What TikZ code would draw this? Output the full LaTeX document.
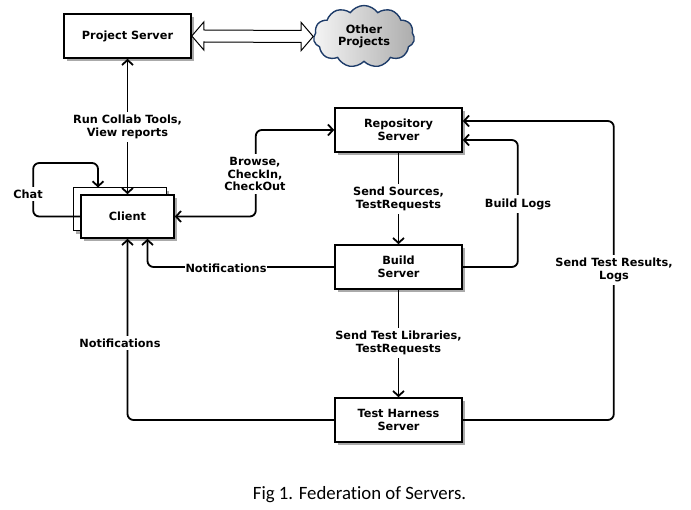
\documentclass[tikz,border=0pt]{standalone}
\usepackage{fontspec}
\setmainfont{DejaVu Sans}
\newfontfamily\capfont[Ligatures=NoCommon]{Carlito}
\usetikzlibrary{arrows.meta}
\usetikzlibrary{shapes.symbols}
\usetikzlibrary{shadows}
\usetikzlibrary{calc}
\definecolor{cloudline}{RGB}{30,60,105}
\definecolor{shadowgray}{RGB}{170,170,170}
\newcommand\srvfont{\fontsize{11.3}{12.7}\selectfont\bfseries}
\tikzset{
      server/.style={draw=black, fill=white, line width=1.6, minimum width=127pt, minimum height=44pt,
            inner sep=0pt, align=center, font=\srvfont,
            drop shadow={shadow xshift=3pt, shadow yshift=-3pt, fill=shadowgray, opacity=1}},
      flow/.style={draw=black, line width=1.8, rounded corners=6pt,
            -{Straight Barb[length=5pt,width=11pt]}},
      flowboth/.style={draw=black, line width=1.8, rounded corners=6pt,
            {Straight Barb[length=5pt,width=11pt]}-{Straight Barb[length=5pt,width=11pt]}},
      twinarrow/.style={draw=black, line width=1, fill=white, line join=miter},
      tag/.style={fill=white, inner xsep=1.5pt, inner ysep=3pt, align=center, font=\srvfont},
}

\begin{document}
\begin{tikzpicture}[x=1pt,y=-1pt]

        \useasboundingbox (0,0) rectangle (691,510);

        \node[server] (proj) at (127.5,36) {Project Server};
        \node[cloud, cloud puffs=11, cloud puff arc=110, aspect=1.6, draw=cloudline, line width=1.4,
              left color=gray!8, right color=gray!65, minimum width=101pt, minimum height=62pt,
              inner sep=0pt, align=center, font=\srvfont] (other) at (364,36.5) {Other\\Projects};

        \node[server, minimum width=93pt, minimum height=43pt, line width=1] (clientbk) at (119.5,209.5) {};
        \node[server, minimum width=93pt, minimum height=43pt] (client) at (127.5,216.5) {Client};

        \node[server] (repo) at (398.5,130) {Repository\\Server};
        \node[server] (build) at (398.5,267) {Build\\Server};
        \node[server] (harness) at (398.5,420) {Test Harness\\Server};

        \draw[twinarrow] (proj.east) -- ++(12,-14) -- ++(0,8) -- ($(other.west)+(-12,-6)$) -- ++(0,-8)
              -- (other.west) -- ++(-12,14) -- ++(0,-8) -- ($(proj.east)+(12,6)$) -- ++(0,8) -- cycle ;

        \coordinate (chatup) at (98,163) ;
        \draw[flowboth] (proj.south) -- (client.north) ;
        \draw[flow] (client.west) -- ++(-47,0) |- (chatup) -- (chatup |- clientbk.north) ;
        \draw[flowboth] (client.east) -- ++(81,0) |- (repo.west) ;
        \draw[flow] (repo.south) -- (build.north) ;
        \draw[flow] (build.south) -- (harness.north) ;
        \draw[flow] (build.east) -- ++(55,0) |- ([yshift=-10pt]repo.east) ;
        \draw[flow] (harness.east) -- ++(151,0) |- ([yshift=9pt]repo.east) ;
        \draw[flow] (build.west) -| ([xshift=20pt]client.south) ;
        \draw[flow] (harness.west) -| (client.south) ;

        \node[tag] (tcollab) at (127.5,127) {Run Collab Tools,\\View reports} ;
        \node[tag] (tchat) at (28,194) {Chat} ;
        \node[tag] (tbrowse) at (255,174) {Browse,\\CheckIn,\\CheckOut} ;
        \node[tag] (tsources) at (398.5,199) {Send Sources,\\TestRequests} ;
        \node[tag] (tlogs) at (518,204) {Build Logs} ;
        \node[tag, inner xsep=0.5pt] (tnotebuild) at (226,268) {Notifications} ;
        \node[tag] (tlibs) at (398.5,343) {Send Test Libraries,\\TestRequests} ;
        \node[tag] (tnoteharness) at (120,343) {Notifications} ;
        \node[tag] (tresults) at (614,270) {Send Test Results,\\Logs} ;

        \node[anchor=base, font=\capfont\fontsize{18.8}{22}\selectfont] (caption) at (359.5,500) {Fig 1. Federation of Servers.} ;

    \end{tikzpicture}
\end{document}
